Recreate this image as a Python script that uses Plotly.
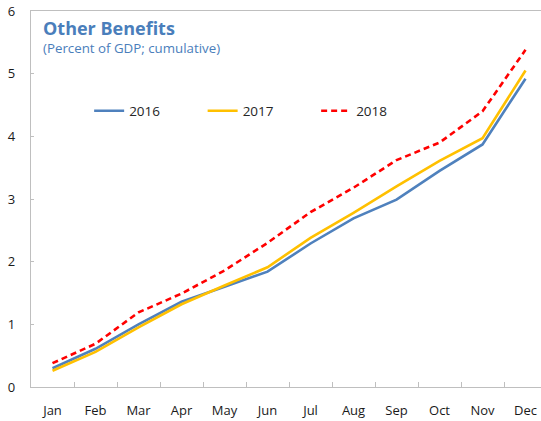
import plotly.graph_objects as go

months = ["Jan", "Feb", "Mar", "Apr", "May", "Jun", "Jul", "Aug", "Sep", "Oct", "Nov", "Dec"]
y2016 = [0.30, 0.61, 1.00, 1.36, 1.60, 1.84, 2.29, 2.69, 2.99, 3.45, 3.87, 4.92]
y2017 = [0.26, 0.56, 0.95, 1.32, 1.62, 1.91, 2.38, 2.78, 3.20, 3.61, 3.97, 5.05]
y2018 = [0.38, 0.69, 1.19, 1.49, 1.86, 2.30, 2.79, 3.18, 3.62, 3.90, 4.40, 5.38]
series_names = ["2016", "2017", "2018"]
y_ticks = [0, 1, 2, 3, 4, 5, 6]

title_text = "Other Benefits"
subtitle_text = "(Percent of GDP; cumulative)"

FONT = "Open Sans"
fig = go.Figure()
fig.add_trace(go.Scatter(x=months, y=y2016, name=series_names[0], mode="lines",
                         line=dict(color="#4F81BD", width=2.6)))
fig.add_trace(go.Scatter(x=months, y=y2017, name=series_names[1], mode="lines",
                         line=dict(color="#FFC000", width=2.6)))
fig.add_trace(go.Scatter(x=months, y=y2018, name=series_names[2], mode="lines",
                         line=dict(color="#FF0000", width=2.6, dash="6px,4px")))

fig.update_layout(
    width=541, height=421,
    margin=dict(l=31, r=0, t=11, b=34),
    paper_bgcolor="white", plot_bgcolor="white",
    font=dict(family=FONT, size=13, color="#262626"),
    showlegend=True,
    legend=dict(orientation="h", x=0.114, xanchor="left", y=0.734, yanchor="middle",
                font=dict(family=FONT, size=13.5, color="#262626"),
                entrywidth=68.5, entrywidthmode="pixels", bgcolor="rgba(0,0,0,0)"),
    annotations=[
        dict(text="<b>" + title_text + "</b>", xref="paper", yref="paper", x=0.019, y=0.955,
             xanchor="left", yanchor="middle", showarrow=False,
             font=dict(family=FONT, size=18, color="#4A7EBB")),
        dict(text=subtitle_text, xref="paper", yref="paper", x=0.019, y=0.902,
             xanchor="left", yanchor="middle", showarrow=False,
             font=dict(family=FONT, size=13.3, color="#4A7EBB")),
    ],
)
fig.update_xaxes(type="category", range=[-0.5, 11.36], showgrid=False,
                 showline=True, linecolor="#BFBFBF", linewidth=1.3, mirror=True,
                 ticks="inside", tickson="boundaries", ticklen=5, tickcolor="#BFBFBF",
                 ticklabelstandoff=11, tickfont=dict(family=FONT, size=13, color="#1a1a1a"))
fig.update_yaxes(range=[0, 6], tickvals=y_ticks, showgrid=False, zeroline=False,
                 showline=True, linecolor="#BFBFBF", linewidth=1.3,
                 ticks="inside", ticklen=3, tickcolor="#BFBFBF",
                 ticklabelstandoff=12, tickfont=dict(family=FONT, size=13, color="#1a1a1a"))

fig.write_html(
    "out.html",
    config={"displayModeBar": False},
    post_script="document.body.style.margin='0px';document.body.style.overflow='hidden';",
)
